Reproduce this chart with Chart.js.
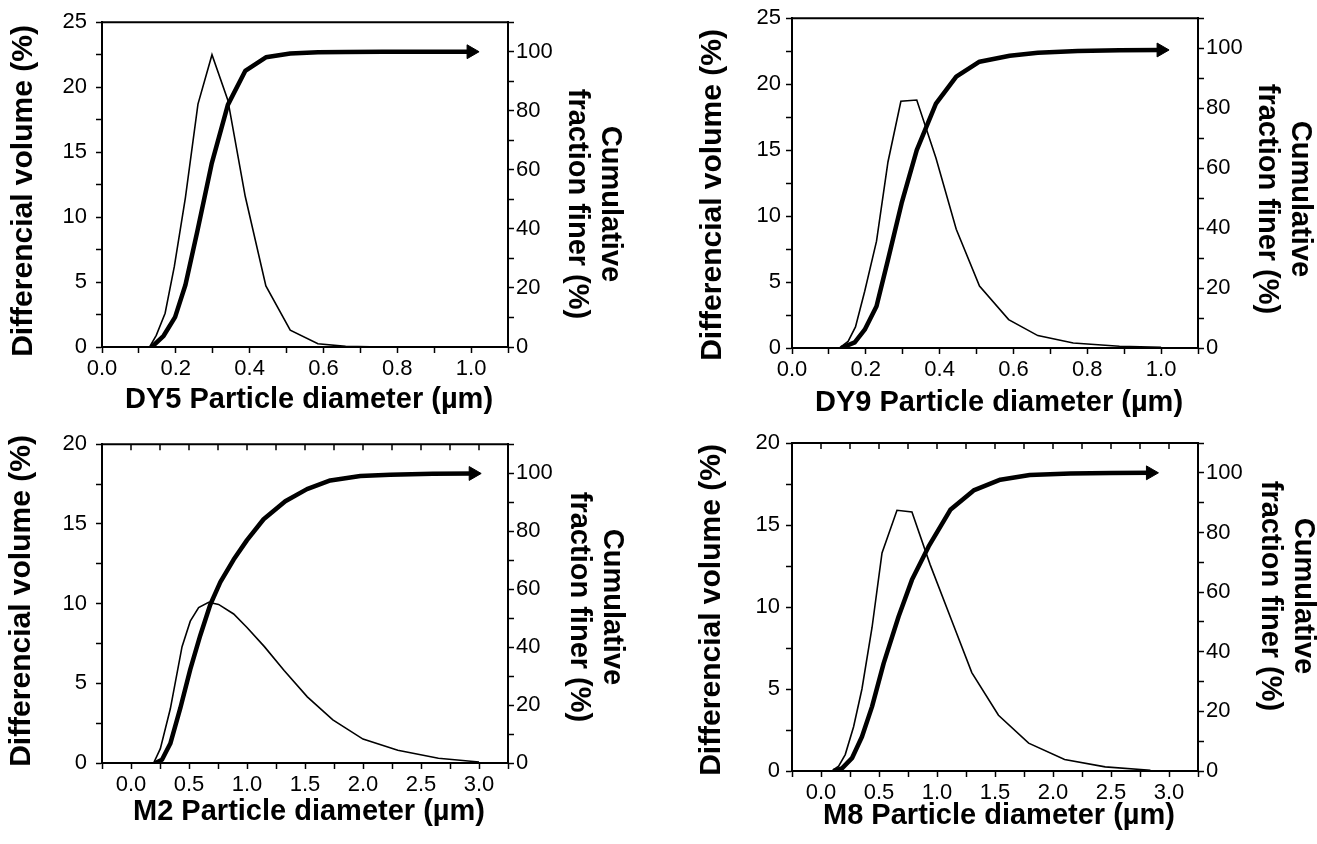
<!DOCTYPE html>
<html>
<head>
<meta charset="utf-8">
<script src="https://cdn.jsdelivr.net/npm/chart.js@4/dist/chart.umd.min.js"></script>
<style>
  html, body { margin: 0; padding: 0; background: #fff; }
  body { width: 1317px; height: 844px; position: relative; overflow: hidden; }
  canvas { position: absolute; }
</style>
</head>
<body>
<canvas id="dy5" width="658" height="422" style="left:0;top:0"></canvas>
<canvas id="dy9" width="659" height="422" style="left:658px;top:0"></canvas>
<canvas id="m2" width="658" height="422" style="left:0;top:422px"></canvas>
<canvas id="m8" width="659" height="422" style="left:658px;top:422px"></canvas>
<script>
// DY5 sample
const dy5Size = [0.129, 0.147, 0.171, 0.196, 0.226, 0.260, 0.298, 0.341, 0.388, 0.444, 0.51, 0.585, 0.66, 0.76, 0.87, 1.0];
const dy5Diff = [0, 0.9, 2.6, 6.2, 11.5, 18.7, 22.5, 19.0, 11.6, 4.7, 1.3, 0.25, 0.05, 0, 0, 0];
const dy5CumSize = [0.135, 0.167, 0.198, 0.226, 0.258, 0.297, 0.341, 0.388, 0.444, 0.51, 0.585, 0.66, 0.76, 0.87, 1.0];
const dy5Cum = [0, 3.8, 10.1, 21, 39, 62, 82, 93.5, 98.1, 99.4, 99.8, 99.9, 100, 100, 100];

// DY9 sample
const dy9Size = [0.129, 0.152, 0.172, 0.197, 0.229, 0.260, 0.295, 0.338, 0.39, 0.445, 0.508, 0.587, 0.666, 0.762, 0.887, 1.0];
const dy9Diff = [0, 0.5, 1.6, 4.3, 8.1, 14.1, 18.7, 18.8, 14.4, 9.0, 4.7, 2.15, 0.94, 0.38, 0.13, 0.05];
const dy9CumSize = [0.133, 0.170, 0.197, 0.229, 0.260, 0.297, 0.338, 0.39, 0.445, 0.508, 0.59, 0.666, 0.774, 0.887, 1.0];
const dy9Cum = [0, 1.9, 6.1, 13.9, 29.4, 48.3, 66, 81.5, 90.5, 95.5, 97.5, 98.5, 99.1, 99.3, 99.4];

// M2 sample
const m2Size = [0.195, 0.253, 0.339, 0.44, 0.511, 0.583, 0.669, 0.755, 0.885, 1.0, 1.15, 1.32, 1.52, 1.74, 2.0, 2.3, 2.65, 3.0];
const m2Diff = [0, 0.9, 3.4, 7.3, 8.9, 9.75, 10.08, 9.95, 9.35, 8.5, 7.3, 5.8, 4.15, 2.7, 1.5, 0.8, 0.3, 0.06];
const m2CumSize = [0.21, 0.267, 0.339, 0.425, 0.511, 0.597, 0.683, 0.77, 0.885, 1.0, 1.143, 1.33, 1.517, 1.718, 1.977, 2.235, 2.6, 2.95];
const m2Cum = [0, 1.1, 6.7, 18.9, 32.3, 44, 54.6, 62.4, 70.2, 76.9, 84.1, 90.3, 94.5, 97.5, 99, 99.5, 99.8, 99.9];

// M8 sample
const m8Size = [0.094, 0.152, 0.209, 0.281, 0.353, 0.44, 0.526, 0.655, 0.784, 0.94, 1.12, 1.30, 1.53, 1.79, 2.1, 2.45, 2.84];
const m8Diff = [0, 0.3, 1.0, 2.7, 5.0, 8.75, 13.3, 15.9, 15.8, 12.6, 9.3, 6.0, 3.4, 1.7, 0.7, 0.25, 0.05];
const m8CumSize = [0.109, 0.181, 0.267, 0.353, 0.44, 0.54, 0.669, 0.784, 0.928, 1.115, 1.316, 1.546, 1.80, 2.15, 2.5, 2.84];
const m8Cum = [0, 0.9, 4.3, 11.5, 21.6, 36.1, 51.8, 64.1, 75.3, 87.6, 94.1, 97.7, 99.3, 99.8, 99.9, 100];

const leftTitle = "Differencial volume (%)";
const rightTitle = ["Cumulative", "fraction finer (%)"];
const xTitles = ["DY5 Particle diameter (µm)", "DY9 Particle diameter (µm)", "M2 Particle diameter (µm)", "M8 Particle diameter (µm)"];

const tickFont = { family: '"Liberation Sans", Arial, sans-serif', size: 22 };
const titleFont = 'bold 29px "Liberation Sans", Arial, sans-serif';

// draws the top frame line, the inner top ticks and the axis titles
const framePlugin = {
    id: "frame",
    afterDraw(chart, args, o) {
        const { ctx, chartArea: a } = chart;
        const xs = chart.scales.x;
        ctx.save();
        ctx.strokeStyle = "#000";
        ctx.lineWidth = 2;
        ctx.beginPath();
        ctx.moveTo(a.left - 1, a.top);
        ctx.lineTo(a.right + 1, a.top);
        ctx.stroke();

        if (o.topTicks) {
            ctx.lineWidth = 1.5;
            ctx.beginPath();
            xs.ticks.forEach(t => {
                const px = xs.getPixelForValue(t.value);
                ctx.moveTo(px, a.top);
                ctx.lineTo(px, a.top + 6);
            });
            ctx.stroke();
        }

        ctx.fillStyle = "#000";
        ctx.font = titleFont;
        ctx.textAlign = "center";
        ctx.textBaseline = "middle";

        ctx.fillText(o.xTitle, (a.left + a.right) / 2 + 4, o.xTitleY);

        ctx.save();
        ctx.translate(o.leftX, o.leftY);
        ctx.rotate(-Math.PI / 2);
        ctx.font = 'bold 30px "Liberation Sans", Arial, sans-serif';
        ctx.fillText(leftTitle, 0, 0);
        ctx.restore();

        ctx.save();
        ctx.translate(o.rightX, o.rightY);
        ctx.rotate(Math.PI / 2);
        ctx.fillText(rightTitle[0], 0, 0);
        ctx.fillText(rightTitle[1], 0, 33);
        ctx.restore();

        ctx.restore();
    }
};

function toPoints(xs, ys) {
    return xs.map((x, i) => ({ x: x, y: ys[i] }));
}

function makePanel(id, p) {
    const cum = toPoints(p.cumSize, p.cum);
    const last = cum.length - 1;

    new Chart(document.getElementById(id), {
        type: "line",
        data: {
            datasets: [
                {
                    data: toPoints(p.size, p.diff),
                    yAxisID: "y",
                    borderColor: "#000",
                    borderWidth: 1.6,
                    pointRadius: 0,
                    tension: 0
                },
                {
                    data: cum,
                    yAxisID: "y2",
                    borderColor: "#000",
                    borderWidth: 4.5,
                    borderJoinStyle: "round",
                    tension: 0,
                    pointStyle: "triangle",
                    pointRotation: 90,
                    pointBackgroundColor: "#000",
                    pointBorderColor: "#000",
                    pointBorderWidth: 1,
                    pointRadius: ctx => (ctx.dataIndex === last ? 8 : 0)
                }
            ]
        },
        options: {
            responsive: false,
            animation: false,
            layout: { padding: { top: p.area.t, left: 0, right: 0, bottom: 0 } },
            plugins: {
                legend: { display: false },
                tooltip: { enabled: false },
                frame: p.frame
            },
            scales: {
                x: {
                    type: "linear",
                    min: p.xMin,
                    max: p.xMax,
                    ticks: {
                        stepSize: p.xStep,
                        autoSkip: false,
                        maxRotation: 0,
                        color: "#000",
                        font: tickFont,
                        padding: 3,
                        callback: v => {
                            const k = Math.round(v / p.xStep);
                            return (k % 2 === 0 && v >= 0) ? v.toFixed(1) : "";
                        }
                    },
                    grid: { drawOnChartArea: false, tickLength: 6, tickWidth: 1.5, tickColor: "#000" },
                    border: { color: "#000", width: 2 },
                    afterFit: s => { s.height = p.h - p.area.b; }
                },
                y: {
                    position: "left",
                    min: 0,
                    max: p.yMax,
                    ticks: {
                        stepSize: 2.5,
                        autoSkip: false,
                        color: "#000",
                        font: tickFont,
                        padding: p.padLeft,
                        callback: v => (v % 5 === 0 ? v : "")
                    },
                    grid: { drawOnChartArea: false, tickLength: 6, tickWidth: 1.5, tickColor: "#000" },
                    border: { color: "#000", width: 2 },
                    afterFit: s => { s.width = p.area.l; }
                },
                y2: {
                    position: "right",
                    min: 0,
                    max: 110,
                    ticks: {
                        stepSize: 10,
                        autoSkip: false,
                        color: "#000",
                        font: tickFont,
                        padding: 2,
                        callback: v => (v % 20 === 0 ? v : "")
                    },
                    grid: { drawOnChartArea: false, tickLength: 6, tickWidth: 1.5, tickColor: "#000" },
                    border: { color: "#000", width: 2 },
                    afterFit: s => { s.width = p.w - p.area.r; }
                }
            }
        },
        plugins: [framePlugin]
    });
}

makePanel("dy5", {
    size: dy5Size, diff: dy5Diff, cumSize: dy5CumSize, cum: dy5Cum,
    xMin: 0, xMax: 1.1, xStep: 0.1, yMax: 25, padLeft: 9,
    w: 658, h: 422, area: { l: 102, r: 508, t: 16, b: 347 },
    frame: { xTitle: xTitles[0], xTitleY: 400, leftX: 24, leftY: 191, rightX: 610, rightY: 204, topTicks: false }
});

makePanel("dy9", {
    size: dy9Size, diff: dy9Diff, cumSize: dy9CumSize, cum: dy9Cum,
    xMin: 0, xMax: 1.1, xStep: 0.1, yMax: 25, padLeft: 5,
    w: 659, h: 422, area: { l: 134, r: 540, t: 17, b: 348 },
    frame: { xTitle: xTitles[1], xTitleY: 403, leftX: 713 - 658, leftY: 195, rightX: 1300 - 658, rightY: 199, topTicks: false }
});

makePanel("m2", {
    size: m2Size, diff: m2Diff, cumSize: m2CumSize, cum: m2Cum,
    xMin: -0.25, xMax: 3.25, xStep: 0.25, yMax: 20, padLeft: 9,
    w: 658, h: 422, area: { l: 102, r: 508, t: 13, b: 341 },
    frame: { xTitle: xTitles[2], xTitleY: 812 - 422, leftX: 22, leftY: 601 - 422, rightX: 612, rightY: 607 - 422, topTicks: true }
});

makePanel("m8", {
    size: m8Size, diff: m8Diff, cumSize: m8CumSize, cum: m8Cum,
    xMin: -0.25, xMax: 3.25, xStep: 0.25, yMax: 20, padLeft: 6,
    w: 659, h: 422, area: { l: 134, r: 540, t: 21, b: 349 },
    frame: { xTitle: xTitles[3], xTitleY: 816 - 422, leftX: 712 - 658, leftY: 610 - 422, rightX: 1303 - 658, rightY: 596 - 422, topTicks: true }
});
</script>
</body>
</html>
